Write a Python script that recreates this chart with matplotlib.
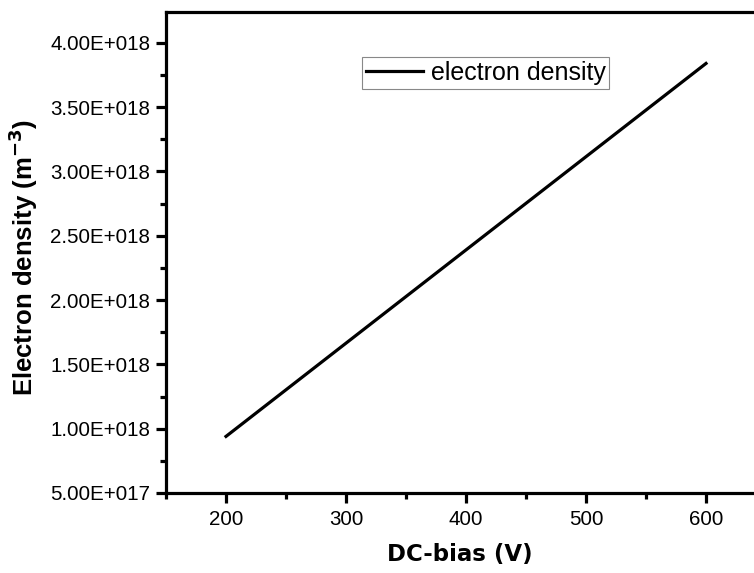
import matplotlib.pyplot as plt
from matplotlib.ticker import MultipleLocator, FuncFormatter

plt.rcParams['font.family'] = ['Liberation Sans', 'DejaVu Sans']

# data
dc_bias = [200, 300, 400, 500, 600]
density = [0.94e18, 1.665e18, 2.39e18, 3.115e18, 3.84e18]


def sci_fmt(v, pos):
    exp = 17 if v < 1e18 else 18
    return '%.2fE+%03d' % (v / 10 ** exp, exp)


fig = plt.figure(figsize=(7.54, 5.73), dpi=100)
ax = fig.add_axes([166 / 754, 80 / 573, 1 - 166 / 754, (493 - 12) / 573])

ax.plot(dc_bias, density, color='black', lw=2.3, label='electron density')

ax.set_xlim(150, 640)
ax.set_ylim(5e17, 4.24e18)
ax.xaxis.set_major_locator(MultipleLocator(100))
ax.xaxis.set_minor_locator(MultipleLocator(50))
ax.yaxis.set_major_locator(MultipleLocator(5e17))
ax.yaxis.set_minor_locator(MultipleLocator(2.5e17))
ax.yaxis.set_major_formatter(FuncFormatter(sci_fmt))
ax.yaxis.get_offset_text().set_visible(False)

for s in ('left', 'bottom', 'top'):
    ax.spines[s].set_linewidth(2.3)
ax.spines['right'].set_visible(False)
ax.tick_params(which='major', direction='out', length=7, width=2.3,
               labelsize=14.8)
ax.tick_params(axis='y', which='major', pad=4.5)
ax.tick_params(axis='x', which='major', pad=5)
ax.tick_params(which='minor', direction='out', length=4.5, width=2.3)

ax.set_xlabel('DC-bias (V)', fontsize=16.5, fontweight='bold',
              family='DejaVu Sans', labelpad=10)
ax.set_ylabel('Electron density (m$^{\\mathbf{-3}}$)', fontsize=18.5,
              fontweight='bold', labelpad=7)
ax.yaxis.label.set_position((0, 0.49))

leg = ax.legend(loc='upper left', bbox_to_anchor=(362 / 754, (573 - 57) / 573),
                bbox_transform=fig.transFigure, borderaxespad=0,
                fancybox=False, framealpha=1, edgecolor='#888888',
                fontsize=18, handlelength=2.3, handletextpad=0.3,
                borderpad=0.15)
leg.get_frame().set_linewidth(0.8)

fig.savefig('out.png', dpi=100)
